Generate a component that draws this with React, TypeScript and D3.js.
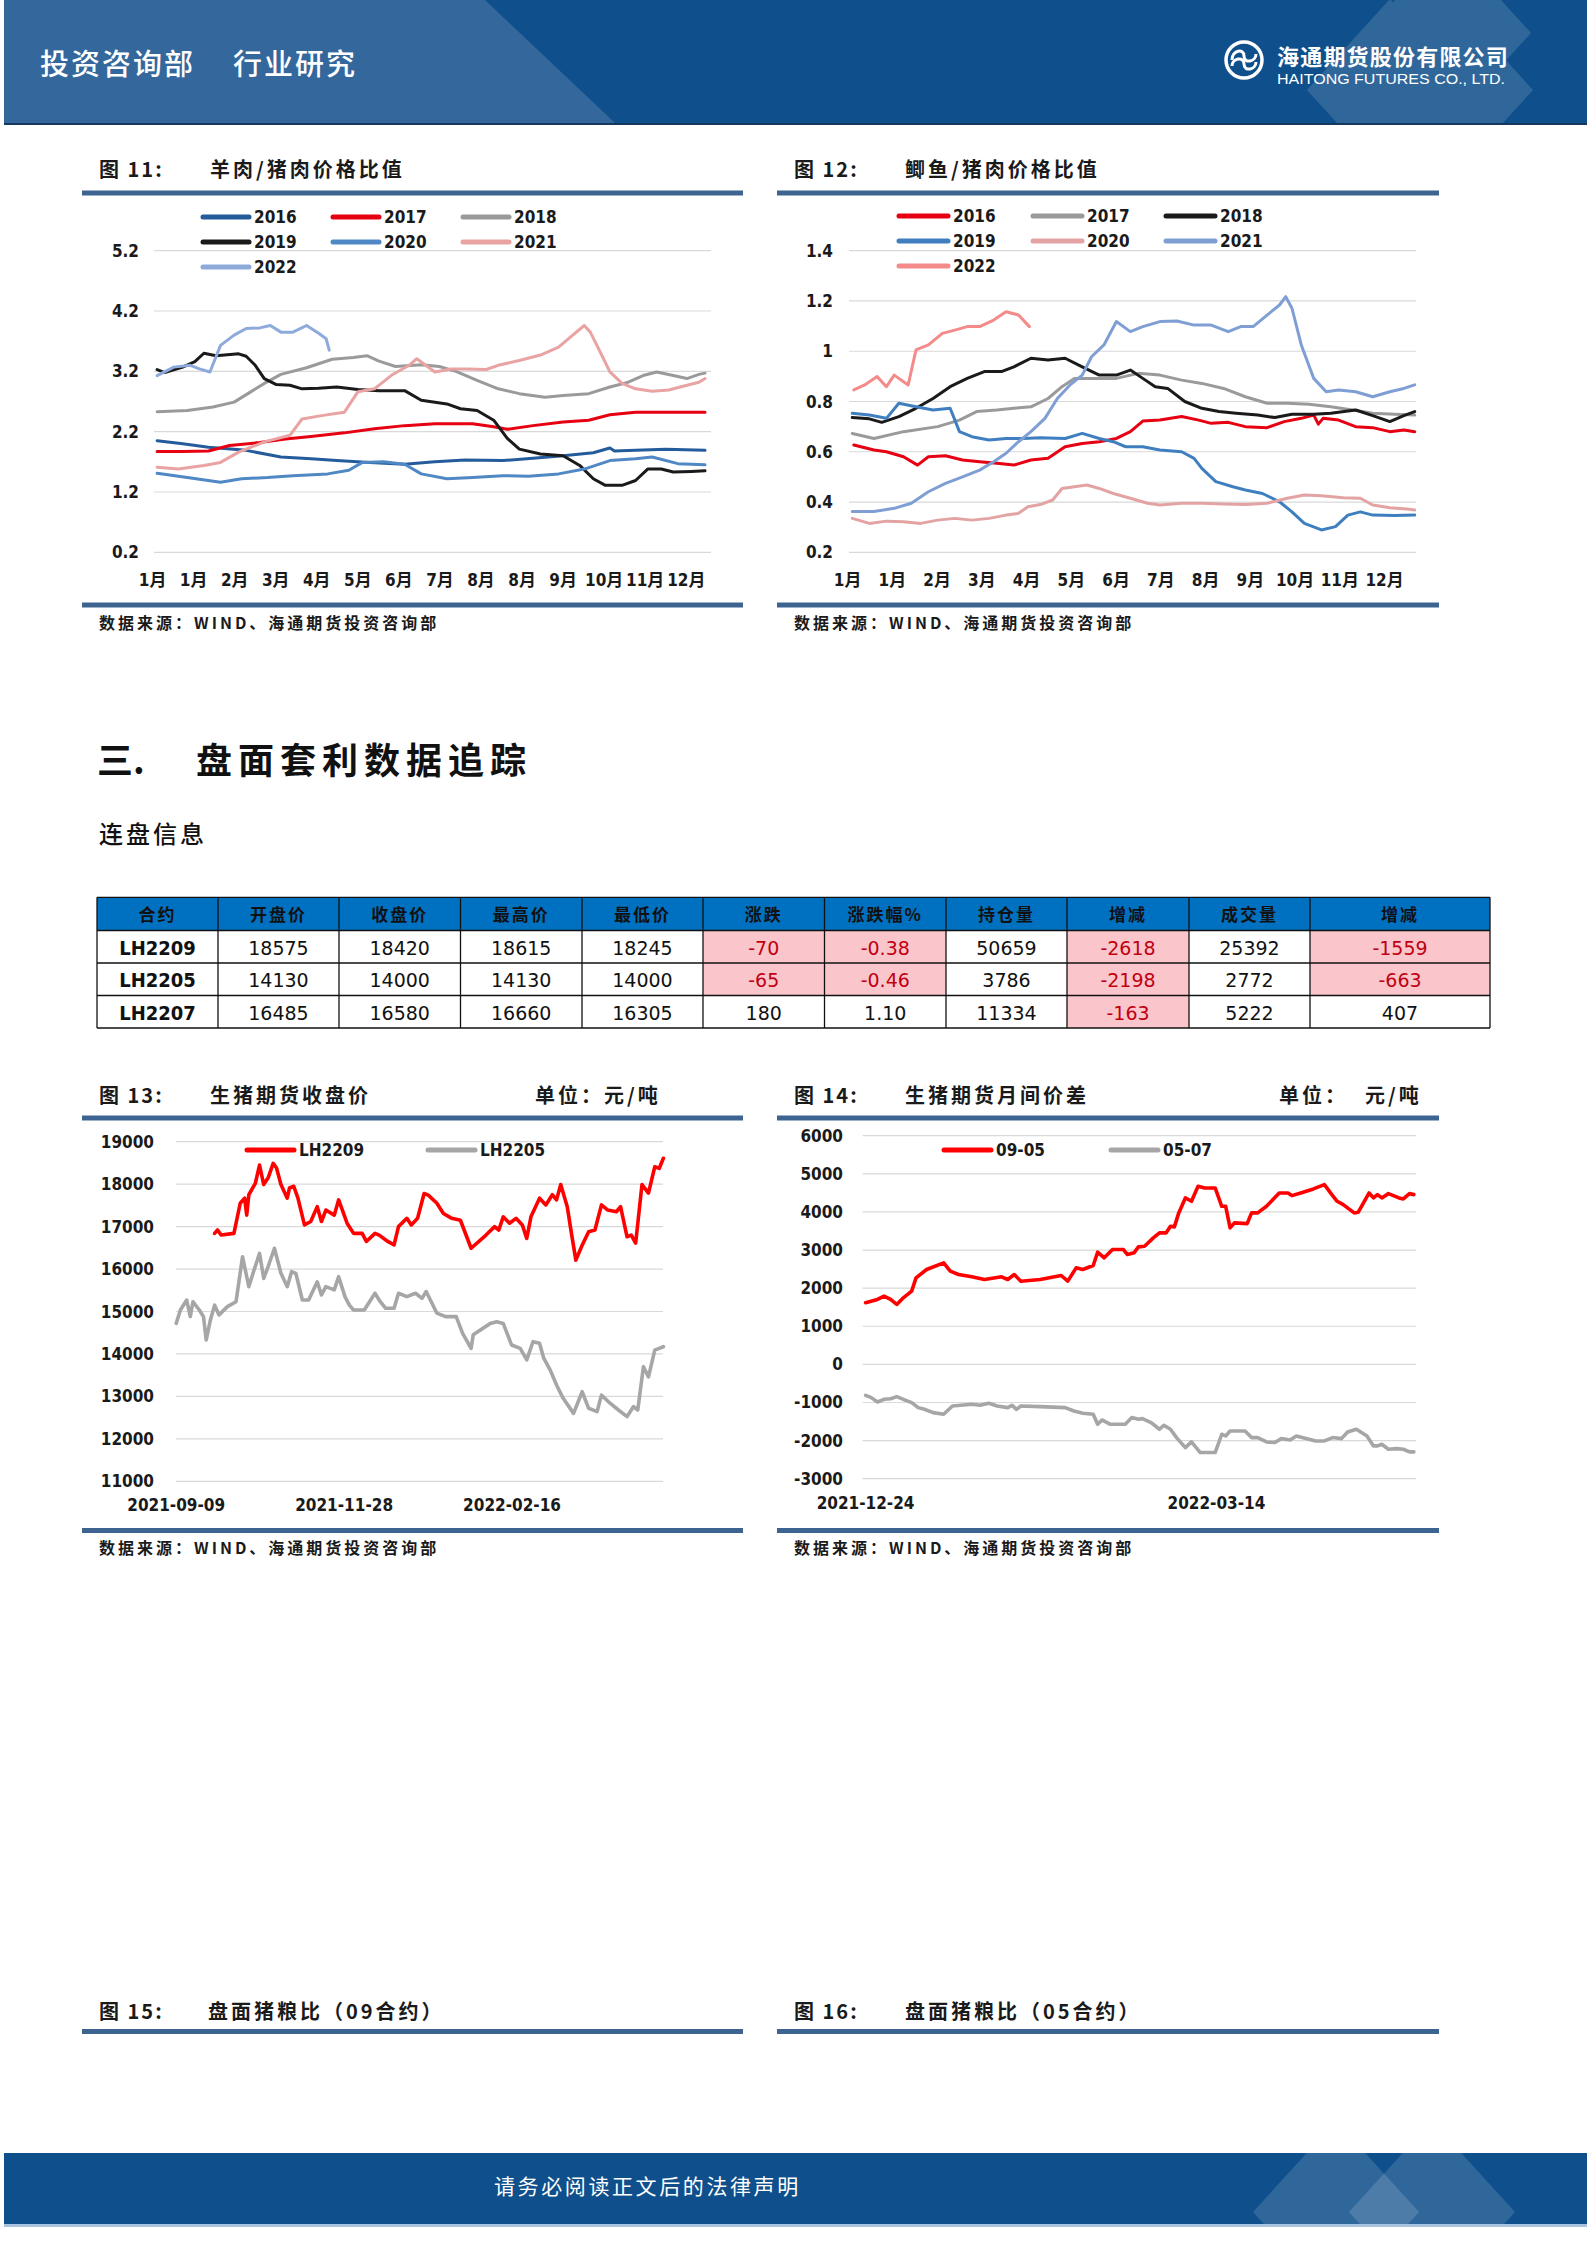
import React from "react";
import * as d3 from "d3";

type Pt = [number, number];

const CJK = "'Noto Sans CJK SC', 'Noto Sans', sans-serif";
const NUM = "'DejaVu Sans Condensed', 'DejaVu Sans', sans-serif";
const NUM2 = "'DejaVu Sans', sans-serif";

// ---------------- Chart 11: 羊肉/猪肉价格比值 ----------------
const c11Months = ["1月", "1月", "2月", "3月", "4月", "5月", "6月", "7月", "8月", "8月", "9月", "10月", "11月", "12月"];
const c11YTicks = [0.2, 1.2, 2.2, 3.2, 4.2, 5.2];
const c11Names = ["2016", "2017", "2018", "2019", "2020", "2021", "2022"];
const c11Colors = ["#245c9b", "#e60012", "#9a9a9a", "#1a1a1a", "#4f88c4", "#e9a3a3", "#8eaadb"];
const c11_2016: Pt[] = [[3,2.05],[20,2.0],[37,1.94],[62,1.89],[85,1.78],[105,1.75],[122,1.72],[144,1.69],[167,1.66],[187,1.70],[207,1.73],[232,1.72],[252,1.76],[272,1.80],[292,1.85],[303,1.93],[306,1.88],[320,1.89],[340,1.91],[366,1.89]];
const c11_2017: Pt[] = [[3,1.87],[20,1.87],[37,1.88],[51,1.97],[71,2.02],[88,2.08],[105,2.12],[127,2.18],[147,2.25],[167,2.30],[187,2.33],[212,2.33],[226,2.28],[235,2.24],[252,2.30],[272,2.36],[289,2.39],[303,2.48],[320,2.52],[337,2.52],[366,2.52]];
const c11_2018: Pt[] = [[3,2.53],[23,2.55],[40,2.61],[54,2.69],[65,2.86],[74,3.0],[85,3.15],[102,3.26],[119,3.4],[133,3.43],[142,3.46],[150,3.37],[161,3.28],[178,3.31],[190,3.28],[201,3.2],[215,3.05],[229,2.91],[243,2.83],[260,2.77],[272,2.8],[289,2.83],[303,2.94],[314,3.01],[325,3.13],[334,3.19],[345,3.13],[354,3.08],[362,3.15],[366,3.17]];
const c11_2019: Pt[] = [[3,3.23],[8,3.18],[20,3.27],[28,3.36],[34,3.5],[42,3.46],[57,3.49],[62,3.45],[68,3.3],[74,3.08],[82,2.98],[91,2.97],[99,2.91],[110,2.92],[122,2.94],[136,2.9],[150,2.88],[167,2.88],[178,2.72],[195,2.66],[204,2.58],[215,2.55],[226,2.39],[235,2.09],[243,1.91],[257,1.83],[272,1.8],[283,1.64],[292,1.42],[300,1.31],[311,1.31],[320,1.39],[328,1.58],[337,1.58],[345,1.53],[357,1.54],[366,1.55]];
const c11_2020: Pt[] = [[3,1.51],[23,1.44],[45,1.36],[59,1.42],[76,1.44],[93,1.47],[116,1.5],[130,1.56],[139,1.69],[153,1.70],[167,1.66],[178,1.5],[195,1.42],[212,1.44],[232,1.47],[249,1.46],[269,1.5],[286,1.58],[303,1.72],[320,1.75],[331,1.78],[348,1.67],[366,1.65]];
const c11_2021: Pt[] = [[3,1.61],[17,1.58],[34,1.64],[45,1.69],[57,1.86],[74,2.03],[91,2.14],[99,2.41],[113,2.47],[127,2.52],[136,2.86],[147,2.91],[158,3.13],[170,3.3],[175,3.41],[181,3.3],[187,3.19],[198,3.24],[209,3.24],[221,3.23],[229,3.3],[243,3.38],[257,3.47],[269,3.6],[277,3.77],[286,3.96],[290,3.85],[296,3.55],[303,3.19],[311,3.0],[320,2.91],[331,2.87],[342,2.89],[354,2.97],[362,3.02],[366,3.08]];
const c11_2022: Pt[] = [[3,3.13],[14,3.27],[25,3.3],[31,3.24],[38,3.19],[45,3.63],[54,3.8],[62,3.91],[71,3.92],[78,3.96],[85,3.85],[93,3.85],[102,3.96],[110,3.83],[115,3.74],[117,3.55]];
const c11Data = [c11_2016, c11_2017, c11_2018, c11_2019, c11_2020, c11_2021, c11_2022];

// ---------------- Chart 12: 鲫鱼/猪肉价格比值 ----------------
const c12Months = ["1月", "1月", "2月", "3月", "4月", "5月", "6月", "7月", "8月", "9月", "10月", "11月", "12月"];
const c12YTicks = [0.2, 0.4, 0.6, 0.8, 1, 1.2, 1.4];
const c12Names = ["2016", "2017", "2018", "2019", "2020", "2021", "2022"];
const c12Colors = ["#e60012", "#9a9a9a", "#1a1a1a", "#3f7fbf", "#e3a3a3", "#7f9fd4", "#f48a8a"];
const c12_2016: Pt[] = [[4,0.627],[17,0.607],[25,0.6],[36,0.58],[45,0.547],[52,0.58],[63,0.584],[74,0.567],[85,0.56],[96,0.554],[107,0.547],[118,0.567],[129,0.574],[140,0.62],[151,0.633],[162,0.64],[173,0.653],[182,0.68],[190,0.722],[201,0.726],[215,0.74],[226,0.726],[234,0.713],[245,0.717],[256,0.7],[270,0.696],[281,0.72],[292,0.733],[300,0.746],[303,0.71],[306,0.733],[316,0.726],[327,0.7],[338,0.696],[349,0.68],[358,0.687],[365,0.68]];
const c12_2017: Pt[] = [[3,0.673],[17,0.653],[36,0.68],[58,0.7],[72,0.726],[83,0.76],[96,0.766],[107,0.773],[118,0.779],[129,0.812],[138,0.859],[146,0.892],[157,0.892],[173,0.892],[187,0.912],[201,0.905],[215,0.885],[228,0.872],[242,0.852],[256,0.819],[270,0.793],[283,0.793],[297,0.789],[311,0.779],[325,0.766],[338,0.753],[352,0.749],[365,0.746]];
const c12_2018: Pt[] = [[3,0.736],[14,0.731],[22,0.717],[33,0.74],[44,0.773],[55,0.812],[66,0.859],[77,0.892],[88,0.919],[99,0.919],[107,0.938],[118,0.972],[129,0.965],[140,0.972],[151,0.938],[162,0.905],[173,0.905],[182,0.925],[190,0.892],[198,0.859],[206,0.852],[217,0.8],[228,0.773],[239,0.76],[250,0.753],[264,0.746],[275,0.736],[286,0.749],[300,0.749],[311,0.753],[327,0.766],[338,0.744],[349,0.72],[358,0.744],[365,0.76]];
const c12_2019: Pt[] = [[3,0.753],[14,0.746],[25,0.733],[33,0.793],[44,0.779],[55,0.766],[66,0.773],[72,0.68],[80,0.66],[91,0.647],[102,0.653],[113,0.653],[124,0.656],[140,0.653],[151,0.673],[162,0.653],[171,0.64],[179,0.62],[190,0.62],[201,0.607],[215,0.6],[223,0.574],[228,0.534],[237,0.481],[248,0.461],[256,0.448],[267,0.434],[278,0.401],[286,0.361],[294,0.315],[305,0.289],[314,0.302],[322,0.348],[330,0.361],[338,0.348],[352,0.346],[365,0.348]];
const c12_2020: Pt[] = [[3,0.335],[14,0.315],[25,0.324],[36,0.322],[47,0.315],[58,0.328],[69,0.335],[80,0.328],[91,0.335],[102,0.348],[110,0.355],[116,0.381],[124,0.39],[132,0.408],[138,0.454],[146,0.461],[154,0.468],[162,0.454],[171,0.434],[182,0.415],[193,0.395],[201,0.388],[215,0.395],[228,0.395],[242,0.392],[256,0.39],[270,0.395],[283,0.415],[294,0.428],[305,0.425],[319,0.417],[330,0.415],[338,0.388],[349,0.377],[360,0.372],[365,0.368]];
const c12_2021: Pt[] = [[3,0.362],[17,0.362],[30,0.375],[41,0.395],[52,0.441],[63,0.474],[74,0.5],[85,0.527],[94,0.56],[102,0.594],[110,0.64],[118,0.68],[127,0.733],[135,0.812],[143,0.865],[151,0.905],[157,0.978],[165,1.025],[173,1.118],[182,1.078],[190,1.098],[201,1.118],[212,1.12],[223,1.104],[234,1.104],[245,1.078],[253,1.098],[261,1.098],[270,1.144],[278,1.184],[282,1.217],[286,1.171],[292,1.025],[300,0.892],[308,0.839],[316,0.846],[327,0.839],[338,0.819],[349,0.839],[358,0.852],[365,0.866]];
const c12_2022: Pt[] = [[4,0.846],[11,0.866],[19,0.899],[25,0.859],[30,0.905],[39,0.866],[44,1.005],[52,1.025],[61,1.071],[69,1.084],[77,1.098],[85,1.098],[94,1.124],[102,1.157],[110,1.144],[117,1.098]];
const c12Data = [c12_2016, c12_2017, c12_2018, c12_2019, c12_2020, c12_2021, c12_2022];

// ---------------- Chart 13: 生猪期货收盘价 ----------------
const c13Dates = ["2021-09-09", "2021-11-28", "2022-02-16"];
const c13DateDays = [0, 80, 160];
const c13YTicks = [11000, 12000, 13000, 14000, 15000, 16000, 17000, 18000, 19000];
const c13Names = ["LH2209", "LH2205"];
const c13Colors = ["#ff0000", "#a6a6a6"];
const lh2209: Pt[] = [[18.3,16840],[19.7,16920],[21.4,16800],[27.5,16840],[30.5,17550],[32.6,17670],[33.6,17270],[34.6,17750],[37.7,18020],[39.7,18450],[41.7,17990],[43.8,18150],[46.2,18490],[47.8,18380],[49.9,17990],[52.9,17670],[54,17910],[56,17950],[58,17670],[61.1,17040],[64.1,17120],[67.2,17470],[69.2,17120],[71.3,17390],[75.3,17270],[77.4,17630],[81.4,17080],[84.5,16840],[88.6,16840],[90.6,16650],[94.7,16840],[96.7,16800],[100.8,16650],[103.8,16570],[105.9,17000],[109.9,17195],[112,17040],[115,17195],[118.1,17780],[120.1,17740],[124.2,17550],[127.3,17310],[131.3,17195],[135.4,17150],[140.5,16490],[147.6,16800],[151.7,17000],[153.7,16920],[155.8,17230],[158.8,17080],[161.9,17195],[164.9,17040],[167,16720],[169,17230],[173.1,17670],[176.1,17510],[179.2,17750],[181.2,17630],[183.2,17990],[186.3,17470],[188.3,16840],[190.4,16210],[193.4,16560],[196.5,16880],[199.5,16920],[202.6,17510],[205.6,17390],[209.7,17350],[211.7,17470],[214.8,16760],[216.8,16800],[218.9,16610],[221.9,17990],[225,17790],[228,18410],[230.1,18370],[232.1,18610]];
const lh2205: Pt[] = [[0,14720],[2,15036],[5,15270],[6.7,14880],[8,15230],[11,15036],[13,14880],[14.3,14330],[16.3,14800],[18.3,15150],[20.4,14920],[24.4,15115],[28.5,15230],[31.6,16290],[34.6,15585],[36.6,15900],[39.7,16370],[41.7,15780],[43.8,16060],[46.8,16490],[49.9,15900],[52.9,15585],[55,15940],[57,15900],[60.1,15270],[63.1,15270],[67.2,15700],[69.2,15390],[71.3,15585],[75.3,15510],[77.4,15820],[80.4,15350],[82.5,15150],[84.5,15036],[89.6,15036],[94.7,15430],[96.7,15270],[99.8,15075],[103.8,15075],[105.9,15430],[109.9,15350],[114,15430],[117.1,15310],[119.1,15470],[124.2,14960],[128.3,14880],[133.4,14880],[136.4,14490],[140.5,14130],[141.5,14450],[149.6,14720],[152.7,14760],[155.8,14720],[159.8,14210],[163.9,14130],[167,13860],[170,14290],[173.1,14250],[175.1,13900],[178.2,13620],[181.2,13270],[184.3,12960],[189.3,12600],[193.4,13110],[196.5,12720],[200.5,12640],[202.6,13030],[206.7,12840],[210.7,12680],[214.8,12525],[217.9,12760],[219.9,12680],[222.6,13700],[225,13460],[228,14090],[230.1,14130],[232.1,14170]];
const c13Data = [lh2209, lh2205];

// ---------------- Chart 14: 生猪期货月间价差 ----------------
const c14Dates = ["2021-12-24", "2022-03-14"];
const c14DateDays = [0, 80];
const c14YTicks = [-3000, -2000, -1000, 0, 1000, 2000, 3000, 4000, 5000, 6000];
const c14Names = ["09-05", "05-07"];
const c14Colors = ["#ff0000", "#a6a6a6"];
const spread0905: Pt[] = [[0,1616],[2.7,1703],[4.2,1790],[5.7,1703],[7.1,1572],[8.6,1747],[10.5,1921],[11.5,2271],[13.9,2489],[17.8,2664],[19.3,2445],[21.2,2358],[24.2,2297],[27.1,2227],[31,2297],[32.4,2227],[33.9,2358],[35.4,2183],[39.8,2227],[44.6,2332],[46.1,2183],[48,2533],[49.5,2489],[51.9,2594],[52.9,2943],[54.4,2795],[56.3,3013],[58.8,3013],[59.7,2882],[61.2,2926],[62.2,3083],[63.6,3100],[65.6,3319],[67,3450],[68.5,3450],[69.5,3624],[70.4,3607],[71.4,3974],[72.9,4367],[74.3,4279],[75.8,4672],[77.3,4629],[79.7,4629],[81.2,4148],[82.1,4148],[83.1,3581],[84.1,3712],[87,3694],[88,3974],[89.4,3974],[91.4,4148],[94.3,4498],[96.3,4498],[97.2,4428],[99.2,4498],[102.1,4603],[104.6,4716],[106,4498],[107.5,4279],[108.9,4192],[111.4,3974],[112.3,3991],[114.8,4498],[115.8,4367],[116.7,4454],[117.7,4367],[119.2,4480],[121.6,4367],[122.6,4340],[124,4480],[125,4454]];
const spread0507: Pt[] = [[0,-812],[1.3,-873],[2.7,-987],[4.2,-917],[5.7,-900],[7.1,-847],[8.6,-917],[10.5,-1004],[12,-1135],[13.4,-1179],[15.4,-1266],[17.8,-1310],[19.8,-1092],[21.7,-1074],[24.2,-1048],[26.1,-1074],[28.1,-1022],[30,-1092],[32.4,-1135],[33.4,-1074],[34.4,-1179],[35.4,-1092],[39.8,-1109],[45.5,-1135],[47.5,-1223],[49.5,-1284],[51.9,-1310],[52.9,-1572],[53.9,-1459],[55.8,-1572],[59.2,-1572],[60.7,-1397],[62.2,-1441],[63.1,-1424],[65.1,-1528],[67,-1703],[68,-1598],[69.5,-1703],[70.9,-1921],[72.9,-2183],[74.3,-2035],[76.3,-2314],[79.7,-2314],[81.2,-1834],[82.1,-1878],[83.1,-1747],[86.5,-1747],[88,-1921],[89.4,-1921],[91.4,-2035],[93.3,-2052],[94.8,-1948],[96.8,-1983],[98.2,-1878],[102.6,-2009],[104.6,-2009],[106.5,-1921],[108.5,-1948],[109.9,-1773],[111.9,-1703],[114.3,-1878],[115.8,-2140],[116.7,-2140],[117.7,-2096],[119.2,-2227],[121.1,-2210],[122.6,-2227],[124,-2297],[125,-2297]];
const c14Data = [spread0905, spread0507];

// ---------------- Table: 连盘信息 ----------------
const tableHeaders = ["合约", "开盘价", "收盘价", "最高价", "最低价", "涨跌", "涨跌幅%", "持仓量", "增减", "成交量", "增减"];
const contracts = ["LH2209", "LH2205", "LH2207"];
const openPrice = ["18575", "14130", "16485"];
const closePrice = ["18420", "14000", "16580"];
const highPrice = ["18615", "14130", "16660"];
const lowPrice = ["18245", "14000", "16305"];
const priceChange = ["-70", "-65", "180"];
const priceChangePct = ["-0.38", "-0.46", "1.10"];
const openInterest = ["50659", "3786", "11334"];
const oiChange = ["-2618", "-2198", "-163"];
const volume = ["25392", "2772", "5222"];
const volChange = ["-1559", "-663", "407"];
const highlightCols = [5, 6, 8, 10];

// ---------------- components ----------------
interface ChartProps {
  xDomain: [number, number];
  xRange: [number, number];
  yDomain: [number, number];
  yRange: [number, number];
  gridX: [number, number];
  yTicks: number[];
  yLabelX: number;
  xTicks: { v: number; label: string }[];
  xLabelY: number;
  names: string[];
  colors: string[];
  data: Pt[][];
  legend: { x: number; y: number }[];
  legendLen: number;
  strokeWidth: number;
  fontSize: number;
}

function LineChart(p: ChartProps) {
  const x = d3.scaleLinear().domain(p.xDomain).range(p.xRange);
  const y = d3.scaleLinear().domain(p.yDomain).range(p.yRange);
  const line = d3
    .line<Pt>()
    .x((d) => x(d[0]))
    .y((d) => y(d[1]));
  return (
    <g>
      {p.yTicks.map((t) => (
        <g key={"g" + t}>
          <line x1={p.gridX[0]} x2={p.gridX[1]} y1={y(t)} y2={y(t)} stroke="#d9d9d9" strokeWidth={1.2} />
          <text
            x={p.yLabelX}
            y={y(t)}
            textAnchor="end"
            dominantBaseline="central"
            fontFamily={NUM}
            fontWeight="bold"
            fontSize={p.fontSize}
            fill="#1a1a1a"
          >
            {String(t)}
          </text>
        </g>
      ))}
      {p.xTicks.map((t, i) => (
        <text
          key={"x" + i}
          x={x(t.v)}
          y={p.xLabelY}
          textAnchor="middle"
          dominantBaseline="central"
          fontFamily={NUM + "," + CJK}
          fontWeight="bold"
          fontSize={p.fontSize}
          fill="#1a1a1a"
        >
          {t.label}
        </text>
      ))}
      {p.data.map((d, i) => (
        <path
          key={"s" + i}
          d={line(d) || ""}
          fill="none"
          stroke={p.colors[i]}
          strokeWidth={p.strokeWidth}
          strokeLinejoin="round"
          strokeLinecap="round"
        />
      ))}
      {p.names.map((n, i) => (
        <g key={"l" + i}>
          <line
            x1={p.legend[i].x}
            x2={p.legend[i].x + p.legendLen}
            y1={p.legend[i].y}
            y2={p.legend[i].y}
            stroke={p.colors[i]}
            strokeWidth={5}
            strokeLinecap="round"
          />
          <text
            x={p.legend[i].x + p.legendLen + 5}
            y={p.legend[i].y}
            dominantBaseline="central"
            fontFamily={NUM}
            fontWeight="bold"
            fontSize={p.fontSize}
            fill="#1a1a1a"
          >
            {n}
          </text>
        </g>
      ))}
    </g>
  );
}

const BAR = "#3d6491";

function Frame(props: {
  x1: number;
  x2: number;
  titleY: number;
  num: string;
  title: string;
  titleX: number;
  units?: { x: number; text: string }[];
  barTop: number;
  bottomBar?: number;
  sourceY?: number;
}) {
  const tx = props.x1 + 17;
  return (
    <g>
      <text x={tx} y={props.titleY} dominantBaseline="central" fontFamily={CJK} fontWeight="bold" fontSize={20} fill="#1a1a1a" letterSpacing={2}>
        {"图 " + props.num + ":"}
      </text>
      <text x={props.titleX} y={props.titleY} dominantBaseline="central" fontFamily={CJK} fontWeight="bold" fontSize={20} fill="#1a1a1a" letterSpacing={3}>
        {props.title}
      </text>
      {(props.units || []).map((u, i) => (
        <text key={i} x={u.x} y={props.titleY} dominantBaseline="central" fontFamily={CJK} fontWeight="bold" fontSize={20} fill="#1a1a1a" letterSpacing={3}>
          {u.text}
        </text>
      ))}
      <rect x={props.x1} y={props.barTop} width={props.x2 - props.x1} height={5} fill={BAR} />
      {props.bottomBar !== undefined && (
        <rect x={props.x1} y={props.bottomBar} width={props.x2 - props.x1} height={5} fill={BAR} />
      )}
      {props.sourceY !== undefined && (
        <text x={tx} y={props.sourceY} dominantBaseline="central" fontFamily={CJK} fontWeight="bold" fontSize={16} fill="#1a1a1a" letterSpacing={3}>
          数据来源：WIND、海通期货投资咨询部
        </text>
      )}
    </g>
  );
}

function diamond(cx: number, cy: number, hw: number, hh: number) {
  return `M${cx},${cy - hh} L${cx + hw},${cy} L${cx},${cy + hh} L${cx - hw},${cy} Z`;
}

function Header() {
  return (
    <g>
      <defs>
        <clipPath id="hdrClip">
          <rect x={4} y={0} width={1583} height={123} />
        </clipPath>
        <clipPath id="ftrClip">
          <rect x={4} y={2153} width={1583} height={71} />
        </clipPath>
      </defs>
      <rect x={4} y={0} width={1583} height={123} fill="#0f4f8b" />
      <path d="M4,0 L485,0 L615,123 L4,123 Z" fill="#34689c" />
      <g clipPath="url(#hdrClip)" fill="#ffffff" opacity={0.14}>
        <path d={diamond(1448, 33, 83, 91) + " " + diamond(1390, 90, 83, 91) + " " + diamond(1450, 90, 83, 91)} fillRule="nonzero" />
      </g>
      <rect x={4} y={123} width={1583} height={2} fill="#16385e" />
      <text x={40} y={62} dominantBaseline="central" fontFamily={CJK} fontWeight={500} fontSize={29} fill="#ffffff" letterSpacing={2}>
        投资咨询部
      </text>
      <text x={233} y={62} dominantBaseline="central" fontFamily={CJK} fontWeight={500} fontSize={29} fill="#ffffff" letterSpacing={2}>
        行业研究
      </text>
      <g>
        <circle cx={1244} cy={60} r={18} fill="none" stroke="#ffffff" strokeWidth={3.5} />
        <path d="M1232,60 C1232,50 1244,48 1244,56 C1244,64 1256,62 1256,54" fill="none" stroke="#ffffff" strokeWidth={3} />
        <path d="M1232,66 C1232,58 1244,56 1244,64 C1244,72 1256,70 1256,62" fill="none" stroke="#ffffff" strokeWidth={3} />
      </g>
      <text x={1277} y={55} dominantBaseline="central" fontFamily={CJK} fontWeight="bold" fontSize={22} fill="#ffffff" letterSpacing={1.2}>
        海通期货股份有限公司
      </text>
      <text x={1277} y={79} dominantBaseline="central" fontFamily="'Liberation Sans', sans-serif" fontSize={14.5} fill="#ffffff" textLength={228} lengthAdjust="spacingAndGlyphs">
        HAITONG FUTURES CO., LTD.
      </text>
    </g>
  );
}

function Footer() {
  return (
    <g>
      <rect x={4} y={2153} width={1583} height={71} fill="#0f4f8b" />
      <g clipPath="url(#ftrClip)" fill="#ffffff">
        <path d={diamond(1336, 2212, 83, 91)} opacity={0.14} />
        <path d={diamond(1432, 2212, 83, 91)} opacity={0.14} />
      </g>
      <rect x={4} y={2224} width={1583} height={3} fill="#a9c2de" />
      <text x={494} y={2185} dominantBaseline="central" fontFamily={CJK} fontSize={21} fill="#ffffff" letterSpacing={2.6}>
        请务必阅读正文后的法律声明
      </text>
    </g>
  );
}

function Table() {
  const colEdges = [97, 218, 339, 460.5, 582, 703, 824.5, 946, 1067, 1189, 1310, 1490];
  const rowEdges = [897.3, 930.5, 963, 995.5, 1028];
  const cols = [contracts, openPrice, closePrice, highPrice, lowPrice, priceChange, priceChangePct, openInterest, oiChange, volume, volChange];
  const cells: React.ReactNode[] = [];
  for (let c = 0; c < tableHeaders.length; c++) {
    const cx = (colEdges[c] + colEdges[c + 1]) / 2;
    cells.push(
      <rect key={"h" + c} x={colEdges[c]} y={rowEdges[0]} width={colEdges[c + 1] - colEdges[c]} height={rowEdges[1] - rowEdges[0]} fill="#0070c0" />
    );
    cells.push(
      <text key={"ht" + c} x={cx} y={(rowEdges[0] + rowEdges[1]) / 2} textAnchor="middle" dominantBaseline="central" fontFamily={CJK} fontWeight="bold" fontSize={17} fill="#111" letterSpacing={2}>
        {tableHeaders[c]}
      </text>
    );
    for (let r = 0; r < 3; r++) {
      const val = cols[c][r];
      const neg = highlightCols.includes(c) && val.startsWith("-");
      const cy = (rowEdges[r + 1] + rowEdges[r + 2]) / 2;
      cells.push(
        <rect key={"b" + c + "-" + r} x={colEdges[c]} y={rowEdges[r + 1]} width={colEdges[c + 1] - colEdges[c]} height={rowEdges[r + 2] - rowEdges[r + 1]} fill={neg ? "#fac6cb" : "#ffffff"} />
      );
      cells.push(
        <text
          key={"t" + c + "-" + r}
          x={cx}
          y={cy + 1}
          textAnchor="middle"
          dominantBaseline="central"
          fontFamily={c === 0 ? NUM : NUM2}
          fontWeight={c === 0 ? "bold" : "normal"}
          fontSize={c === 0 ? 20 : 19}
          fill={neg ? "#c00010" : "#111"}
        >
          {val}
        </text>
      );
    }
  }
  const lines: React.ReactNode[] = [];
  colEdges.forEach((x, i) =>
    lines.push(<line key={"vc" + i} x1={x} x2={x} y1={rowEdges[0]} y2={rowEdges[4]} stroke="#111" strokeWidth={1.3} />)
  );
  rowEdges.forEach((y, i) =>
    lines.push(<line key={"hr" + i} x1={colEdges[0]} x2={colEdges[colEdges.length - 1]} y1={y} y2={y} stroke="#111" strokeWidth={1.3} />)
  );
  return (
    <g>
      {cells}
      {lines}
    </g>
  );
}

export default function App() {
  const c11Legend = [
    { x: 203, y: 217 }, { x: 333, y: 217 }, { x: 463, y: 217 },
    { x: 203, y: 242 }, { x: 333, y: 242 }, { x: 463, y: 242 },
    { x: 203, y: 267 },
  ];
  const c12Legend = [
    { x: 899, y: 216 }, { x: 1033, y: 216 }, { x: 1166, y: 216 },
    { x: 899, y: 241 }, { x: 1033, y: 241 }, { x: 1166, y: 241 },
    { x: 899, y: 266 },
  ];
  return (
    <svg width={1587} height={2245} style={{ position: "absolute", left: 0, top: 0, background: "#ffffff" }}>
      <rect x={0} y={0} width={1587} height={2245} fill="#ffffff" />
      <Header />

      {/* Figure 11 */}
      <Frame x1={82} x2={743} titleY={168} num="11" title="羊肉/猪肉价格比值" titleX={210} barTop={190.5} bottomBar={602.5} sourceY={622} />
      <LineChart
        xDomain={[0, 366]}
        xRange={[152.6, 705]}
        yDomain={[0.2, 5.2]}
        yRange={[552.3, 250.7]}
        gridX={[154, 711]}
        yTicks={c11YTicks}
        yLabelX={139}
        xTicks={c11Months.map((m, i) => ({ v: i * 27.2, label: m }))}
        xLabelY={580}
        names={c11Names}
        colors={c11Colors}
        data={c11Data}
        legend={c11Legend}
        legendLen={46}
        strokeWidth={3}
        fontSize={17}
      />

      {/* Figure 12 */}
      <Frame x1={777} x2={1439} titleY={168} num="12" title="鲫鱼/猪肉价格比值" titleX={905} barTop={190.5} bottomBar={602.5} sourceY={622} />
      <LineChart
        xDomain={[0, 365]}
        xRange={[847.6, 1414.7]}
        yDomain={[0.2, 1.4]}
        yRange={[552.3, 250.7]}
        gridX={[849, 1416]}
        yTicks={c12YTicks}
        yLabelX={833}
        xTicks={c12Months.map((m, i) => ({ v: i * 28.8, label: m }))}
        xLabelY={580}
        names={c12Names}
        colors={c12Colors}
        data={c12Data}
        legend={c12Legend}
        legendLen={49}
        strokeWidth={3}
        fontSize={17}
      />

      {/* Section 3 */}
      <text x={97} y={758} dominantBaseline="central" fontFamily={CJK} fontWeight="bold" fontSize={36} fill="#111">
        三.
      </text>
      <text x={196} y={758} dominantBaseline="central" fontFamily={CJK} fontWeight="bold" fontSize={36} fill="#111" letterSpacing={6}>
        盘面套利数据追踪
      </text>
      <text x={99} y={832} dominantBaseline="central" fontFamily={CJK} fontWeight={500} fontSize={24} fill="#111" letterSpacing={3}>
        连盘信息
      </text>
      <Table />

      {/* Figure 13 */}
      <Frame x1={82} x2={743} titleY={1094} num="13" title="生猪期货收盘价" titleX={210} units={[{ x: 535, text: "单位：元/吨" }]} barTop={1115.5} bottomBar={1528} sourceY={1547} />
      <LineChart
        xDomain={[0, 232.1]}
        xRange={[176.2, 176.2 + 232.1 * 2.099]}
        yDomain={[11000, 19000]}
        yRange={[1481.3, 1141.7]}
        gridX={[176, 663]}
        yTicks={c13YTicks}
        yLabelX={154}
        xTicks={c13Dates.map((d, i) => ({ v: c13DateDays[i], label: d }))}
        xLabelY={1505}
        names={c13Names}
        colors={c13Colors}
        data={c13Data}
        legend={[{ x: 247, y: 1150 }, { x: 428, y: 1150 }]}
        legendLen={47}
        strokeWidth={3.6}
        fontSize={17}
      />

      {/* Figure 14 */}
      <Frame
        x1={777}
        x2={1439}
        titleY={1094}
        num="14"
        title="生猪期货月间价差"
        titleX={905}
        units={[{ x: 1279, text: "单位：" }, { x: 1365, text: "元/吨" }]}
        barTop={1115.5}
        bottomBar={1528}
        sourceY={1547}
      />
      <LineChart
        xDomain={[0, 125]}
        xRange={[865.6, 865.6 + 125 * 4.386]}
        yDomain={[-3000, 6000]}
        yRange={[1478.7, 1135.7]}
        gridX={[862.6, 1416]}
        yTicks={c14YTicks}
        yLabelX={843}
        xTicks={c14Dates.map((d, i) => ({ v: c14DateDays[i], label: d }))}
        xLabelY={1503}
        names={c14Names}
        colors={c14Colors}
        data={c14Data}
        legend={[{ x: 944, y: 1150 }, { x: 1111, y: 1150 }]}
        legendLen={47}
        strokeWidth={3.6}
        fontSize={17}
      />

      {/* Figures 15 & 16 (titles only) */}
      <Frame x1={82} x2={743} titleY={2010} num="15" title="盘面猪粮比（09合约）" titleX={208} barTop={2029} />
      <Frame x1={777} x2={1439} titleY={2010} num="16" title="盘面猪粮比（05合约）" titleX={905} barTop={2029} />

      <Footer />
    </svg>
  );
}
